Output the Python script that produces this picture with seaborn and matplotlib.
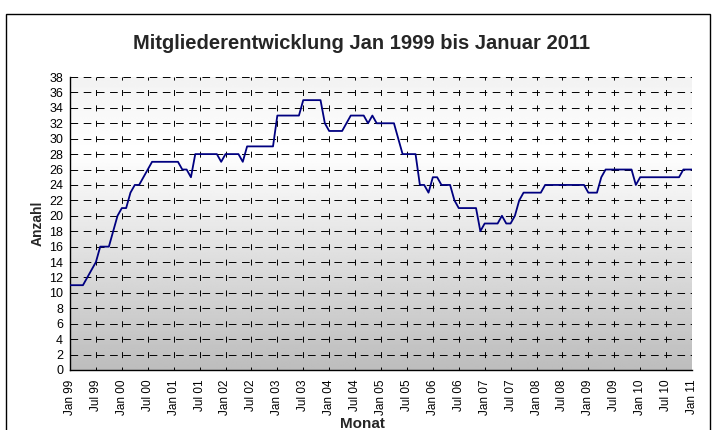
import matplotlib
matplotlib.use("Agg")
import matplotlib.pyplot as plt
import seaborn as sns
import numpy as np
import pandas as pd
from matplotlib.patches import Rectangle

# monthly member counts, Jan 1999 .. Jan 2011
anzahl = [11, 11, 11, 11, 12, 13, 14, 16, 16, 16, 18, 20, 21, 21, 23, 24, 24, 25, 26,
          27, 27, 27, 27, 27, 27, 27, 26, 26, 25,
          28, 28, 28, 28, 28, 28, 27, 28, 28, 28, 28, 27,
          29, 29, 29, 29, 29, 29, 29,
          33, 33, 33, 33, 33, 33,
          35, 35, 35, 35, 35,
          32, 31, 31, 31, 31, 32, 33, 33, 33, 33, 32, 33,
          32, 32, 32, 32, 32, 30, 28, 28, 28, 28,
          24, 24, 23, 25, 25, 24, 24, 24, 22, 21, 21, 21, 21, 21,
          18, 19, 19, 19, 19, 20, 19, 19, 20, 22,
          23, 23, 23, 23, 23,
          24, 24, 24, 24, 24, 24, 24, 24, 24, 24,
          23, 23, 23, 25, 26, 26, 26, 26, 26, 26, 26, 24,
          25, 25, 25, 25, 25, 25, 25, 25, 25, 25, 26, 26, 26]

tick_labels = ["Jan 99", "Jul 99", "Jan 00", "Jul 00", "Jan 01", "Jul 01", "Jan 02",
               "Jul 02", "Jan 03", "Jul 03", "Jan 04", "Jul 04", "Jan 05", "Jul 05",
               "Jan 06", "Jul 06", "Jan 07", "Jul 07", "Jan 08", "Jul 08", "Jan 09",
               "Jul 09", "Jan 10", "Jul 10", "Jan 11"]
y_ticks = list(range(0, 39, 2))

title = "Mitgliederentwicklung Jan 1999 bis Januar 2011"

df = pd.DataFrame({"Monat": np.arange(len(anzahl)), "Anzahl": anzahl})

sns.set_theme(style="white")
plt.rcParams["font.family"] = ["Liberation Sans", "DejaVu Sans"]
plt.rcParams["lines.scale_dashes"] = False

fig = plt.figure(figsize=(7.14, 4.30), dpi=100)
fig.patch.set_facecolor("white")
ax = fig.add_axes([70 / 714, 1 - 370 / 430, (692 - 70) / 714, (370 - 77) / 430])

n_months = len(anzahl) - 1
y_max = 38

# gradient background of plot area
pos = np.linspace(0, 1, 300)
shade = np.interp(pos, [0.0, 0.25, 1.0], [0.95, 1.0, 0.74])
grad = np.tile(shade[:, None], (1, 2))
ax.imshow(grad, extent=[0, n_months, 0, y_max], aspect="auto", cmap="gray",
          vmin=0, vmax=1, zorder=0, origin="upper", interpolation="bilinear")

sns.lineplot(data=df, x="Monat", y="Anzahl", ax=ax, color="#000080",
             linewidth=1.3, zorder=3)

ax.set_xlim(0, n_months)
ax.set_ylim(0, y_max)
ax.set_xticks(np.arange(0, n_months + 1, 6))
ax.set_xticklabels(tick_labels, rotation=90, fontsize=8.5)
ax.set_yticks(y_ticks)
ax.set_yticklabels([str(v) for v in y_ticks], fontsize=9)
ax.tick_params(axis="both", direction="inout", length=6, width=0.8, color="black",
               pad=2, labelcolor="black")
ax.tick_params(axis="x", pad=4)

ax.yaxis.grid(True, color="black", linewidth=0.7, linestyle=(0, (5.5, 4)))
ax.xaxis.grid(True, color="black", linewidth=0.7, linestyle=(2.15, (4.3, 6.8)))
ax.set_axisbelow(False)
for gl in ax.get_xgridlines() + ax.get_ygridlines():
    gl.set_zorder(2)

for s in ["top", "right"]:
    ax.spines[s].set_visible(False)
for s in ["left", "bottom"]:
    ax.spines[s].set_color("black")
    ax.spines[s].set_linewidth(1.0)

ax.set_ylabel("Anzahl", fontsize=10, fontweight="bold", labelpad=3)
ax.set_xlabel("")
fig.text(362 / 714, 1 - 428 / 430, "Monat", ha="center", va="baseline",
         fontsize=11, fontweight="bold")

fig.text(0.507, 1 - 49 / 430, title, ha="center", va="baseline",
         fontsize=14.5, fontweight="bold")

# outer chart frame
fig.patches.append(Rectangle((6 / 714, -0.1), (710 - 6) / 714, 1.1 - 14 / 430,
                             transform=fig.transFigure, fill=False,
                             edgecolor="black", linewidth=1.0))

fig.savefig("out.png", dpi=100)
